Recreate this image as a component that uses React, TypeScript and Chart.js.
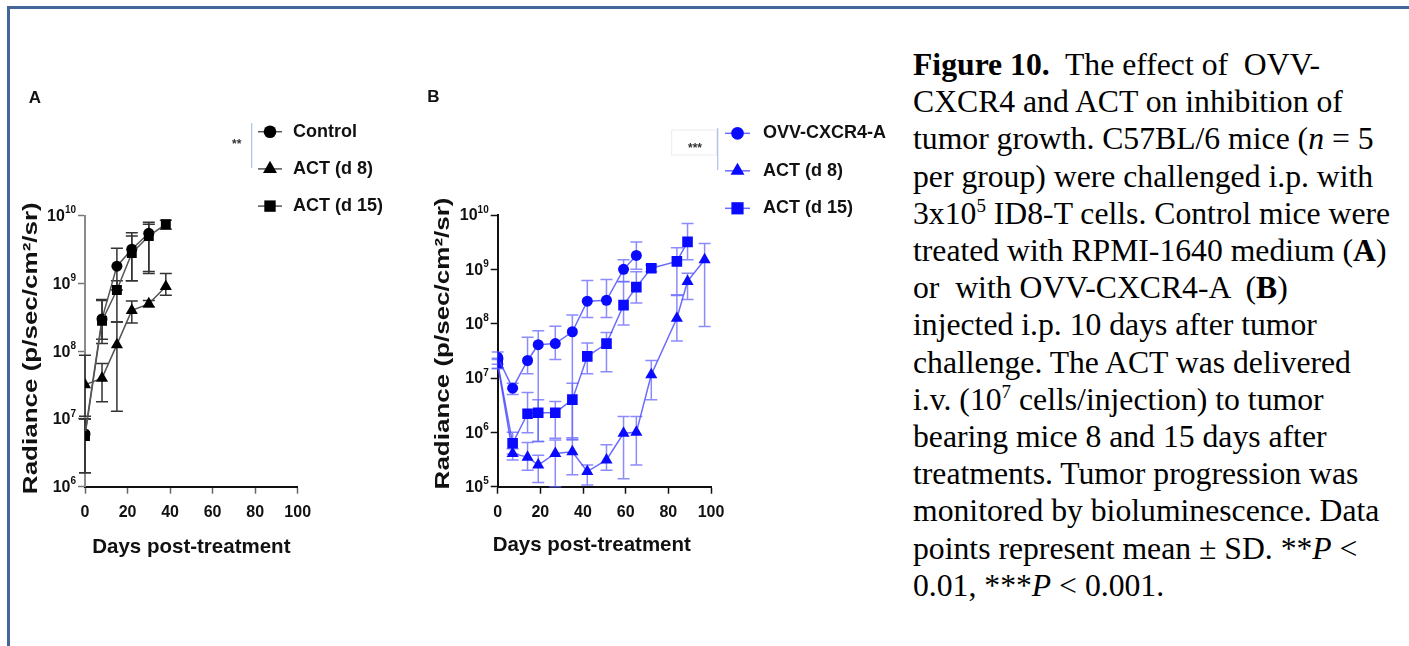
import React, { useEffect, useRef } from 'react';
import { Chart, registerables } from 'chart.js';

Chart.register(...registerables);

const SANS = "'Liberation Sans', Arial, Helvetica, sans-serif";
const SERIF = "'Liberation Serif', 'Times New Roman', Times, serif";

// ---------- ticks ----------
const xTickValues = [0, 20, 40, 60, 80, 100];
const yExponentsA = [6, 7, 8, 9, 10];
const yExponentsB = [5, 6, 7, 8, 9, 10];

// ---------- Panel A (black) ----------
const legendA = ['Control', 'ACT (d 8)', 'ACT (d 15)'];
const daysA = [0, 8, 15, 22, 30, 38];
const controlA = [6.0e6, 3.0e8, 1.8e9, 3.2e9, 5.5e9, null];
const controlAHigh = [1.0e7, 5.6e8, 3.3e9, 5.6e9, 8.0e9, null];
const controlALow = [1.6e6, 1.3e8, 8.0e8, 1.1e9, 1.4e9, null];
const act8A = [3.2e7, 4.0e7, 1.25e8, 4.0e8, 5.0e8, 9.0e8];
const act8AHigh = [8.7e7, 6.6e7, 2.7e8, 5.5e8, 5.6e8, 1.4e9];
const act8ALow = [1.1e7, 1.8e7, 1.3e7, 2.6e8, 4.5e8, 6.7e8];
const act15A = [5.6e6, 2.8e8, 8.0e8, 2.8e9, 5.0e9, 7.5e9];
const act15AHigh = [1.0e7, 5.8e8, 1.1e9, 5.0e9, 7.5e9, 8.6e9];
const act15ALow = [1.6e6, 1.5e8, 2.7e8, 1.1e9, 1.5e9, 6.3e9];

// ---------- Panel B (blue) ----------
const legendB = ['OVV-CXCR4-A', 'ACT (d 8)', 'ACT (d 15)'];
const daysB = [0, 7, 14, 19, 27, 35, 42, 51, 59, 65, 72, 84, 89, 97];
const ovvB = [2.4e7, 6.5e6, 2.1e7, 4.1e7, 4.3e7, 7.1e7, 2.6e8, 2.7e8, 1.0e9, 1.8e9, null, null, null, null];
const ovvBHigh = [3.0e7, 8.0e6, 5.6e7, 7.4e7, 9.0e7, 1.45e8, 6.2e8, 6.5e8, 1.5e9, 3.2e9, null, null, null, null];
const ovvBLow = [1.8e7, 5.0e6, 1.2e7, 6.8e5, 2.2e7, 8.0e5, 1.3e8, 1.3e8, 5.9e8, 1.0e9, null, null, null, null];
const act8B = [1.8e7, 4.1e5, 3.5e5, 2.5e5, 4.1e5, 4.4e5, 1.9e5, 3.1e5, 9.6e5, 1.0e6, 1.15e7, 1.26e8, 6.0e8, 1.5e9];
const act8BHigh = [2.2e7, 5.0e5, 6.5e5, 3.8e5, 7.2e5, 7.5e5, 2.5e5, 5.9e5, 1.95e6, 1.95e6, 2.1e7, 3.3e8, 8.5e8, 3.0e9];
const act8BLow = [1.5e7, 3.1e5, 2.0e5, 1.2e5, 1.0e5, 1.66e5, 1.07e5, 2.0e5, 1.4e5, 2.5e5, 4.0e6, 4.8e7, 2.8e8, 8.9e7];
const act15B = [1.9e7, 6.3e5, 2.2e6, 2.3e6, 2.3e6, 4.0e6, 2.5e7, 4.3e7, 2.2e8, 4.7e8, 1.05e9, 1.4e9, 3.2e9, null];
const act15BHigh = [2.3e7, 1.0e6, 5.4e6, 4.0e6, 3.7e6, 8.0e6, 4.4e7, 6.9e7, 6.0e8, 9.0e8, 1.2e9, 2.5e9, 7.0e9, null];
const act15BLow = [1.5e7, 4.0e5, 9.8e5, 6.8e5, 7.8e5, 7.2e5, 1.2e7, 1.3e7, 9.5e7, 2.4e8, 9.0e8, 3.4e8, 1.5e9, null];

const toPoints = (xs: number[], ys: (number | null)[]) => xs.map((x, i) => ({ x, y: ys[i] }));

function drawMarker(ctx: CanvasRenderingContext2D, style: string, x: number, y: number, r: number) {
  ctx.beginPath();
  if (style === 'circle') {
    ctx.arc(x, y, r, 0, Math.PI * 2);
  } else if (style === 'triangle') {
    ctx.moveTo(x, y - r);
    ctx.lineTo(x + r * 0.866, y + r / 2);
    ctx.lineTo(x - r * 0.866, y + r / 2);
    ctx.closePath();
  } else {
    const s = r * Math.SQRT1_2;
    ctx.rect(x - s, y - s, 2 * s, 2 * s);
  }
  ctx.fill();
}

const decoPlugin = {
  id: 'deco',
  beforeDatasetsDraw(chart: any) {
    const o = chart.options.plugins.deco;
    const ctx: CanvasRenderingContext2D = chart.ctx;
    const xs = chart.scales.x;
    const ys = chart.scales.y;
    chart.data.datasets.forEach((ds: any) => {
      if (!ds.errHigh) return;
      ctx.save();
      ctx.strokeStyle = o.errColor;
      ctx.lineWidth = o.errWidth;
      ds.data.forEach((p: any, i: number) => {
        if (p.y == null || ds.errHigh[i] == null) return;
        const x = xs.getPixelForValue(p.x);
        const yh = ys.getPixelForValue(ds.errHigh[i]);
        const yl = ys.getPixelForValue(ds.errLow[i]);
        ctx.beginPath();
        ctx.moveTo(x, yh);
        ctx.lineTo(x, yl);
        ctx.moveTo(x - o.cap, yh);
        ctx.lineTo(x + o.cap, yh);
        ctx.moveTo(x - o.cap, yl);
        ctx.lineTo(x + o.cap, yl);
        ctx.stroke();
      });
      ctx.restore();
    });
  },
  afterDraw(chart: any) {
    const o = chart.options.plugins.deco;
    const ctx: CanvasRenderingContext2D = chart.ctx;
    const a = chart.chartArea;
    const ys = chart.scales.y;
    const midX = (a.left + a.right) / 2;
    const midY = (a.top + a.bottom) / 2;
    ctx.save();
    ctx.fillStyle = '#111';

    // y tick labels 10^n
    const baseFont = `bold 16px ${SANS}`;
    const expFont = `bold 10px ${SANS}`;
    o.yExps.forEach((e: number) => {
      const y = ys.getPixelForValue(Math.pow(10, e));
      const xr = a.left - o.tickLen - 2;
      ctx.font = expFont;
      const we = ctx.measureText(String(e)).width;
      ctx.font = baseFont;
      const wb = ctx.measureText('10').width;
      ctx.textAlign = 'left';
      ctx.textBaseline = 'middle';
      ctx.fillText('10', xr - we - wb, y + 1);
      ctx.font = expFont;
      ctx.fillText(String(e), xr - we, y - 5);
    });

    // axis titles
    ctx.textAlign = 'center';
    ctx.textBaseline = 'middle';
    ctx.font = `bold 20.5px ${SANS}`;
    ctx.fillText(o.xTitle, midX + o.xTitleDx, a.bottom + o.xTitleDy);
    ctx.save();
    ctx.translate(a.left + o.yTitleDx, midY + o.yTitleDy);
    ctx.rotate(-Math.PI / 2);
    ctx.scale(o.yStretch, 1);
    ctx.font = `bold 20px ${SANS}`;
    ctx.fillText(o.yTitle, 0, 0);
    ctx.restore();

    // panel letter
    ctx.font = `bold 17px ${SANS}`;
    ctx.fillText(o.panelLabel, a.left + o.labelDx, a.top + o.labelDy);

    // legend
    chart.data.datasets.forEach((ds: any, i: number) => {
      const y = a.top + o.legendDy + i * o.legendGap;
      const x0 = a.right + o.legendDx;
      ctx.strokeStyle = ds.borderColor;
      ctx.lineWidth = 1.5;
      ctx.beginPath();
      ctx.moveTo(x0, y);
      ctx.lineTo(x0 + o.legendLen, y);
      ctx.stroke();
      ctx.fillStyle = ds.pointBackgroundColor;
      drawMarker(ctx, ds.pointStyle, x0 + o.legendLen / 2, y, ds.pointRadius * 1.15);
      ctx.fillStyle = '#111';
      ctx.font = `bold 18px ${SANS}`;
      ctx.textAlign = 'left';
      ctx.textBaseline = 'middle';
      ctx.fillText(ds.label, x0 + o.legendLen + o.legendTextGap, y);
    });

    // significance marks
    if (o.box) {
      ctx.strokeStyle = '#ececec';
      ctx.lineWidth = 1;
      ctx.strokeRect(a.right + o.box[0], a.top + o.box[1], o.box[2], o.box[3]);
    }
    ctx.fillStyle = '#333';
    ctx.font = `bold 12px ${SANS}`;
    ctx.textAlign = 'center';
    ctx.fillText(o.stars, a.right + o.starsDx, a.top + o.starsDy);
    ctx.strokeStyle = o.bracketColor;
    ctx.lineWidth = 1.2;
    ctx.beginPath();
    ctx.moveTo(a.right + o.bracketDx, a.top + o.bracketTop);
    ctx.lineTo(a.right + o.bracketDx, a.top + o.bracketBottom);
    ctx.stroke();
    ctx.restore();
  },
};

function buildConfig(p: any) {
  return {
    type: 'line',
    data: { datasets: p.datasets },
    plugins: [decoPlugin],
    options: {
      animation: false,
      responsive: false,
      devicePixelRatio: 1,
      layout: { padding: p.padding },
      plugins: {
        legend: { display: false },
        tooltip: { enabled: false },
        deco: p.deco,
      },
      scales: {
        x: {
          type: 'linear',
          min: 0,
          max: 100,
          afterBuildTicks: (s: any) => {
            s.ticks = xTickValues.map((v) => ({ value: v }));
          },
          afterFit: (s: any) => {
            s.height = 70;
          },
          grid: { drawOnChartArea: false, drawTicks: true, tickLength: 7, tickWidth: 1.5, tickColor: p.xTickColor },
          border: { display: true, color: p.xAxisColor, width: 2 },
          ticks: {
            padding: 9,
            maxRotation: 0,
            color: '#111',
            font: { family: SANS, size: 16, weight: 'bold' },
          },
        },
        y: {
          type: 'logarithmic',
          min: Math.pow(10, p.yExps[0]),
          max: Math.pow(10, p.yExps[p.yExps.length - 1]),
          afterBuildTicks: (s: any) => {
            s.ticks = p.yExps.map((e: number) => ({ value: Math.pow(10, e) }));
          },
          afterFit: (s: any) => {
            s.width = p.yWidth;
          },
          grid: { drawOnChartArea: false, drawTicks: true, tickLength: 7, tickWidth: 1.5, tickColor: p.yTickColor },
          border: { display: true, color: p.yAxisColor, width: 2 },
          ticks: { display: false },
        },
      },
    },
  };
}

const configA = () =>
  buildConfig({
    yExps: yExponentsA,
    yWidth: 70,
    padding: { left: 0, top: 130.7, right: 112.3, bottom: 8.3 },
    xTickColor: '#666',
    yTickColor: '#777',
    xAxisColor: '#111',
    yAxisColor: '#8a8a8a',
    datasets: [
      {
        label: legendA[0], data: toPoints(daysA, controlA), errHigh: controlAHigh, errLow: controlALow,
        pointStyle: 'circle', pointRadius: 5.5, order: 2,
        borderColor: '#555', borderWidth: 1.5, pointBackgroundColor: '#000', pointBorderColor: '#000', pointBorderWidth: 0,
      },
      {
        label: legendA[1], data: toPoints(daysA, act8A), errHigh: act8AHigh, errLow: act8ALow,
        pointStyle: 'triangle', pointRadius: 7, order: 3,
        borderColor: '#555', borderWidth: 1.5, pointBackgroundColor: '#000', pointBorderColor: '#000', pointBorderWidth: 0,
      },
      {
        label: legendA[2], data: toPoints(daysA, act15A), errHigh: act15AHigh, errLow: act15ALow,
        pointStyle: 'rect', pointRadius: 7, order: 1,
        borderColor: '#555', borderWidth: 1.5, pointBackgroundColor: '#000', pointBorderColor: '#000', pointBorderWidth: 0,
      },
    ],
    deco: {
      yExps: yExponentsA, tickLen: 7,
      errColor: '#333', errWidth: 1.5, cap: 6,
      xTitle: 'Days post-treatment', xTitleDx: 0, xTitleDy: 60.3,
      yTitle: 'Radiance (p/sec/cm²/sr)', yTitleDx: -54, yTitleDy: -3, yStretch: 1.3,
      panelLabel: 'A', labelDx: -50, labelDy: -117.7,
      legendDx: -39.7, legendLen: 24, legendTextGap: 11, legendDy: -84, legendGap: 37.2,
      stars: '**', starsDx: -61, starsDy: -70.7,
      bracketDx: -46, bracketTop: -92.7, bracketBottom: -47.7, bracketColor: '#a9c1e6',
      box: null,
    },
  });

const BLUE = '#0a0aff';
const BLUE_LINE = 'rgba(70,70,255,0.8)';

const configB = () =>
  buildConfig({
    yExps: yExponentsB,
    yWidth: 77.7,
    padding: { left: 0, top: 130, right: 179, bottom: 8.3 },
    xTickColor: '#111',
    yTickColor: '#111',
    xAxisColor: '#111',
    yAxisColor: '#111',
    datasets: [
      {
        label: legendB[0], data: toPoints(daysB, ovvB), errHigh: ovvBHigh, errLow: ovvBLow,
        pointStyle: 'circle', pointRadius: 5.5, order: 1,
        borderColor: BLUE_LINE, borderWidth: 1.5, pointBackgroundColor: BLUE, pointBorderColor: BLUE, pointBorderWidth: 0,
      },
      {
        label: legendB[1], data: toPoints(daysB, act8B), errHigh: act8BHigh, errLow: act8BLow,
        pointStyle: 'triangle', pointRadius: 7, order: 3,
        borderColor: BLUE_LINE, borderWidth: 1.5, pointBackgroundColor: BLUE, pointBorderColor: BLUE, pointBorderWidth: 0,
      },
      {
        label: legendB[2], data: toPoints(daysB, act15B), errHigh: act15BHigh, errLow: act15BLow,
        pointStyle: 'rect', pointRadius: 7.5, order: 2,
        borderColor: BLUE_LINE, borderWidth: 1.5, pointBackgroundColor: BLUE, pointBorderColor: BLUE, pointBorderWidth: 0,
      },
    ],
    deco: {
      yExps: yExponentsB, tickLen: 7,
      errColor: 'rgba(100,100,255,0.75)', errWidth: 1.5, cap: 6,
      xTitle: 'Days post-treatment', xTitleDx: -12.6, xTitleDy: 58.3,
      yTitle: 'Radiance (p/sec/cm²/sr)', yTitleDx: -54.4, yTitleDy: -7.4, yStretch: 1.3,
      panelLabel: 'B', labelDx: -64.2, labelDy: -118,
      legendDx: 14, legendLen: 25, legendTextGap: 13, legendDy: -81.7, legendGap: 37.5,
      stars: '***', starsDx: -16, starsDy: -66.7,
      bracketDx: 6.7, bracketTop: -87, bracketBottom: -45, bracketColor: '#a9c1e6',
      box: [-39.3, -85, 45, 25],
    },
  });

function ChartPanel({ make, left, top, width, height }: any) {
  const ref = useRef<HTMLCanvasElement>(null);
  useEffect(() => {
    const chart = new Chart(ref.current as HTMLCanvasElement, make() as any);
    return () => chart.destroy();
  }, []);
  return (
    <canvas
      ref={ref}
      width={width}
      height={height}
      style={{ position: 'absolute', left, top, width, height, display: 'block' }}
    />
  );
}

const supStyle: React.CSSProperties = { fontSize: '0.6em', verticalAlign: 'super', lineHeight: 0 };

export default function App() {
  return (
    <div
      style={{
        position: 'absolute',
        left: 0,
        top: 0,
        width: 1409,
        height: 646,
        overflow: 'hidden',
        background: '#fff',
      }}
    >
      <div
        style={{
          position: 'absolute',
          left: 7,
          top: 6,
          width: 1420,
          height: 660,
          borderTop: '3px solid #44679a',
          borderLeft: '3px solid #44679a',
        }}
      />
      <ChartPanel make={configA} left={15} top={85} width={395} height={480} />
      <ChartPanel make={configB} left={420} top={85} width={470} height={480} />
      <div
        style={{
          position: 'absolute',
          left: 913,
          top: 46,
          fontFamily: SERIF,
          fontSize: '31.7px',
          lineHeight: '37.2px',
          whiteSpace: 'pre',
          color: '#000',
        }}
      >
        <div><b>Figure 10.</b>{'  The effect of  OVV-'}</div>
        <div>CXCR4 and ACT on inhibition of</div>
        <div>tumor growth. C57BL/6 mice (<i>n</i> = 5</div>
        <div>per group) were challenged i.p. with</div>
        <div>3x10<span style={supStyle}>5</span> ID8-T cells. Control mice were</div>
        <div>treated with RPMI-1640 medium (<b>A</b>)</div>
        <div>{'or  with OVV-CXCR4-A  ('}<b>B</b>)</div>
        <div>injected i.p. 10 days after tumor</div>
        <div>challenge. The ACT was delivered</div>
        <div>i.v. (10<span style={supStyle}>7</span> cells/injection) to tumor</div>
        <div>bearing mice 8 and 15 days after</div>
        <div>treatments. Tumor progression was</div>
        <div>monitored by bioluminescence. Data</div>
        <div>points represent mean ± SD. **<i>P</i> &lt;</div>
        <div>0.01, ***<i>P</i> &lt; 0.001.</div>
      </div>
    </div>
  );
}
